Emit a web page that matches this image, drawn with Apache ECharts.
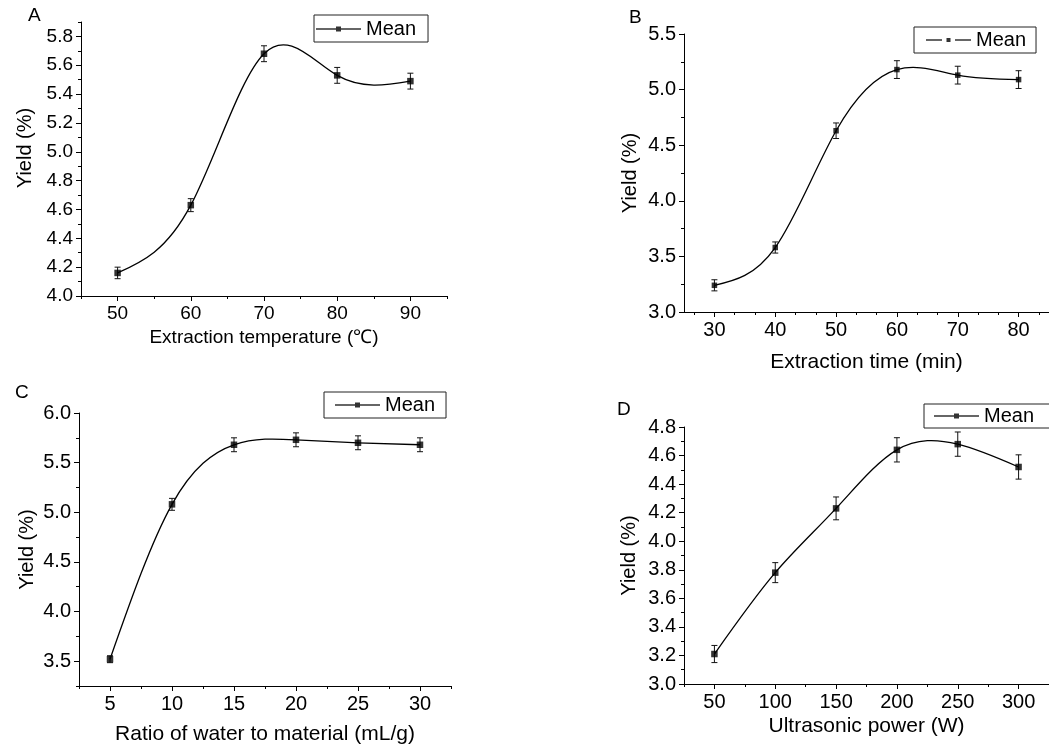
<!DOCTYPE html>
<html>
<head>
<meta charset="utf-8">
<script src="https://cdn.jsdelivr.net/npm/echarts@6/dist/echarts.min.js"></script>
<style>
html, body { margin: 0; padding: 0; background: #fff; }
#main { width: 1049px; height: 747px; }
</style>
</head>
<body>
<div id="main"></div>
<script>
// A - extraction temperature
var tempX = [50, 60, 70, 80, 90];
var tempMean = [4.16, 4.63, 5.68, 5.53, 5.49];
var tempErr = [0.04, 0.045, 0.055, 0.055, 0.055];
// B - extraction time
var timeX = [30, 40, 50, 60, 70, 80];
var timeMean = [3.24, 3.58, 4.63, 5.18, 5.13, 5.09];
var timeErr = [0.05, 0.05, 0.07, 0.08, 0.08, 0.08];
// C - ratio of water to material
var ratioX = [5, 10, 15, 20, 25, 30];
var ratioMean = [3.52, 5.08, 5.68, 5.73, 5.70, 5.68];
var ratioErr = [0.035, 0.06, 0.07, 0.07, 0.07, 0.07];
// D - ultrasonic power
var powerX = [50, 100, 150, 200, 250, 300];
var powerMean = [3.21, 3.78, 4.23, 4.64, 4.68, 4.52];
var powerErr = [0.06, 0.07, 0.08, 0.085, 0.085, 0.085];

// tick labels
var tempTicks = [50, 60, 70, 80, 90];
var tempYTicks = [4.0, 4.2, 4.4, 4.6, 4.8, 5.0, 5.2, 5.4, 5.6, 5.8];
var timeTicks = [30, 40, 50, 60, 70, 80];
var timeYTicks = [3.0, 3.5, 4.0, 4.5, 5.0, 5.5];
var ratioTicks = [5, 10, 15, 20, 25, 30];
var ratioYTicks = [3.5, 4.0, 4.5, 5.0, 5.5, 6.0];
var powerTicks = [50, 100, 150, 200, 250, 300];
var powerYTicks = [3.0, 3.2, 3.4, 3.6, 3.8, 4.0, 4.2, 4.4, 4.6, 4.8];

var FONT = "'Liberation Sans', Arial, sans-serif";

function steps(a, b, s) {
    var out = [];
    for (var v = a; v <= b + 1e-6; v += s) out.push(+v.toFixed(4));
    return out;
}

// natural cubic spline through the points, returned as bezier segments (data space)
function splineSegs(xs, ys) {
    var n = xs.length, h = [], i;
    for (i = 0; i < n - 1; i++) h.push(xs[i + 1] - xs[i]);
    var a = [], b = [], c = [], d = [];
    for (i = 1; i < n - 1; i++) {
        a.push(h[i - 1]);
        b.push(2 * (h[i - 1] + h[i]));
        c.push(h[i]);
        d.push(6 * ((ys[i + 1] - ys[i]) / h[i] - (ys[i] - ys[i - 1]) / h[i - 1]));
    }
    var m = n - 2;
    for (i = 1; i < m; i++) {
        var w = a[i] / b[i - 1];
        b[i] -= w * c[i - 1];
        d[i] -= w * d[i - 1];
    }
    var M = [];
    for (i = 0; i < n; i++) M.push(0);
    for (i = m - 1; i >= 0; i--) {
        M[i + 1] = (d[i] - (i < m - 1 ? c[i] * M[i + 2] : 0)) / b[i];
    }
    var segs = [];
    for (i = 0; i < n - 1; i++) {
        var hi = h[i], dy = (ys[i + 1] - ys[i]) / hi;
        var s0 = dy - hi * (2 * M[i] + M[i + 1]) / 6;
        var s1 = dy + hi * (M[i] + 2 * M[i + 1]) / 6;
        segs.push([
            [xs[i], ys[i]],
            [xs[i] + hi / 3, ys[i] + s0 * hi / 3],
            [xs[i + 1] - hi / 3, ys[i + 1] - s1 * hi / 3],
            [xs[i + 1], ys[i + 1]]
        ]);
    }
    return segs;
}

var iconSolid = 'path://M0,1.8h20v1.4h-20z M20,0h5v5h-5z M25,1.8h20v1.4h-20z';
var iconDash = 'path://M0,1.3h16v1.4h-16z M20.5,0h4v4h-4z M29,1.3h16v1.4h-16z';

var panels = [
    {
        letter: 'A', lx: 28, ly: 6,
        x: tempX, y: tempMean, err: tempErr,
        grid: {left: 81, top: 22, width: 366, height: 274},
        xr: [45, 95], yr: [4.0, 5.9],
        xMajor: tempTicks, xMinor: steps(45, 95, 10),
        yMajor: tempYTicks, yMinor: steps(4.1, 5.9, 0.2),
        xName: 'Extraction temperature (\u2103)', xGap: 32, yGap: 46, yPad: [0, 0, 0, 22],
        fs: 19, ts: 19,
        sym: 6.5,
        lg: {left: 314, top: 15, pad: [4, 12, 3, 2], icon: iconSolid, h: 5}
    },
    {
        letter: 'B', lx: 629, ly: 8,
        x: timeX, y: timeMean, err: timeErr,
        grid: {left: 684, top: 34, width: 375, height: 278},
        xr: [25, 85], yr: [3.0, 5.5],
        xMajor: timeTicks, xMinor: steps(26.6667, 85, 10).concat(steps(33.3333, 85, 10)),
        yMajor: timeYTicks, yMinor: steps(3.25, 5.25, 0.5),
        xName: 'Extraction time (min)', xGap: 40, yGap: 44, yPad: 0,
        fs: 20, ts: 21,
        sym: 5.5,
        lg: {left: 914, top: 27, pad: [3, 10, 3, 12], icon: iconDash, h: 4}
    },
    {
        letter: 'C', lx: 15, ly: 383,
        x: ratioX, y: ratioMean, err: ratioErr,
        grid: {left: 79, top: 413, width: 372, height: 273},
        xr: [2.5, 32.5], yr: [3.25, 6.0],
        xMajor: ratioTicks, xMinor: steps(2.5, 32.5, 5),
        yMajor: ratioYTicks, yMinor: steps(3.25, 5.75, 0.5),
        xName: 'Ratio of water to material (mL/g)', xGap: 38, yGap: 42, yPad: 0,
        fs: 20, ts: 21,
        sym: 6.5,
        lg: {left: 324, top: 392, pad: [3, 11, 3, 11], icon: iconSolid, h: 5}
    },
    {
        letter: 'D', lx: 617, ly: 400,
        x: powerX, y: powerMean, err: powerErr,
        grid: {left: 684, top: 427, width: 372, height: 257},
        xr: [25, 325], yr: [3.0, 4.8],
        xMajor: powerTicks, xMinor: steps(25, 325, 50),
        yMajor: powerYTicks, yMinor: steps(3.1, 4.7, 0.2),
        xName: 'Ultrasonic power (W)', xGap: 32, yGap: 45, yPad: 0,
        fs: 20, ts: 21,
        sym: 6.5,
        lg: {left: 924, top: 404, pad: [2, 30, 2, 10], icon: iconSolid, h: 5}
    }
];

var lineBlack = {color: '#000', width: 1};

function renderErr(params, api) {
    var x = api.value(0);
    var lo = api.coord([x, api.value(1)]);
    var hi = api.coord([x, api.value(2)]);
    var w = 3;
    var st = {stroke: '#111', lineWidth: 1};
    return {
        type: 'group',
        children: [
            {type: 'line', shape: {x1: lo[0], y1: lo[1], x2: hi[0], y2: hi[1]}, style: st},
            {type: 'line', shape: {x1: lo[0] - w, y1: lo[1], x2: lo[0] + w, y2: lo[1]}, style: st},
            {type: 'line', shape: {x1: hi[0] - w, y1: hi[1], x2: hi[0] + w, y2: hi[1]}, style: st}
        ]
    };
}

function makeSplineRender(segs) {
    return function (params, api) {
        var seg = segs[params.dataIndex];
        if (!seg) return null;
        var q = seg.map(function (pt) { return api.coord(pt); });
        return {
            type: 'bezierCurve',
            shape: {
                x1: q[0][0], y1: q[0][1],
                cpx1: q[1][0], cpy1: q[1][1],
                cpx2: q[2][0], cpy2: q[2][1],
                x2: q[3][0], y2: q[3][1]
            },
            style: {stroke: '#000', lineWidth: 1.3, fill: 'none'}
        };
    };
}

var grids = [], xAxes = [], yAxes = [], series = [], titles = [], legends = [];

panels.forEach(function (p, i) {
    grids.push(p.grid);
    var xFmt = function (v) { return String(v); };
    var yFmt = function (v) { return v.toFixed(1); };
    // main x axis: labels and major ticks
    xAxes.push({
        type: 'value', gridIndex: i, position: 'bottom', min: p.xr[0], max: p.xr[1],
        name: p.xName, nameLocation: 'middle', nameGap: p.xGap,
        nameTextStyle: {color: '#000', fontSize: p.ts, fontFamily: FONT},
        axisLine: {show: true, onZero: false, lineStyle: lineBlack},
        axisTick: {show: true, length: 5, customValues: p.xMajor, lineStyle: lineBlack},
        axisLabel: {customValues: p.xMajor, margin: 8, formatter: xFmt, color: '#000', fontSize: p.fs, fontFamily: FONT},
        splitLine: {show: false}
    });
    // overlay x axis: minor ticks only
    xAxes.push({
        type: 'value', gridIndex: i, position: 'bottom', offset: 0, min: p.xr[0], max: p.xr[1],
        axisLine: {show: false, onZero: false},
        axisTick: {show: true, length: 3, customValues: p.xMinor, lineStyle: lineBlack},
        axisLabel: {show: false},
        splitLine: {show: false}
    });
    yAxes.push({
        type: 'value', gridIndex: i, position: 'left', min: p.yr[0], max: p.yr[1],
        name: 'Yield (%)', nameLocation: 'middle', nameGap: p.yGap,
        nameTextStyle: {color: '#000', fontSize: 20, fontFamily: FONT, padding: p.yPad},
        axisLine: {show: true, onZero: false, lineStyle: lineBlack},
        axisTick: {show: true, length: 5, customValues: p.yMajor, lineStyle: lineBlack},
        axisLabel: {customValues: p.yMajor, margin: 8, formatter: yFmt, color: '#000', fontSize: p.fs, fontFamily: FONT},
        splitLine: {show: false}
    });
    yAxes.push({
        type: 'value', gridIndex: i, position: 'left', offset: 0, min: p.yr[0], max: p.yr[1],
        axisLine: {show: false, onZero: false},
        axisTick: {show: true, length: 3, customValues: p.yMinor, lineStyle: lineBlack},
        axisLabel: {show: false},
        splitLine: {show: false}
    });

    var pts = p.x.map(function (v, k) { return [v, p.y[k]]; });

    // spline connecting the means
    series.push({
        type: 'custom', name: 'spline' + p.letter, coordinateSystem: 'cartesian2d',
        xAxisIndex: 2 * i, yAxisIndex: 2 * i,
        data: pts, encode: {x: 0, y: 1},
        renderItem: makeSplineRender(splineSegs(p.x, p.y)), z: 1, silent: true
    });
    // error bars
    series.push({
        type: 'custom', name: 'err' + p.letter, coordinateSystem: 'cartesian2d',
        xAxisIndex: 2 * i, yAxisIndex: 2 * i,
        data: p.x.map(function (v, k) { return [v, p.y[k] - p.err[k], p.y[k] + p.err[k]]; }),
        encode: {x: 0, y: [1, 2]},
        renderItem: renderErr, z: 2, silent: true
    });
    // mean markers
    series.push({
        type: 'scatter', name: 'Mean', xAxisIndex: 2 * i, yAxisIndex: 2 * i,
        data: pts, symbol: 'rect', symbolSize: p.sym,
        itemStyle: {color: '#000'}, z: 3
    });

    titles.push({
        text: p.letter, left: p.lx, top: p.ly, padding: 0,
        textStyle: {color: '#000', fontSize: 19, fontWeight: 'normal', fontFamily: FONT}
    });
    legends.push({
        left: p.lg.left, top: p.lg.top, padding: p.lg.pad, orient: 'horizontal',
        borderColor: '#222', borderWidth: 1, itemWidth: 45, itemHeight: p.lg.h, itemGap: 0,
        selectedMode: false,
        data: [{name: 'Mean', icon: p.lg.icon}],
        itemStyle: {color: '#000', borderWidth: 0},
        textStyle: {color: '#000', fontSize: 20, fontFamily: FONT}
    });
});

var chart = echarts.init(document.getElementById('main'));
chart.setOption({
    animation: false,
    backgroundColor: '#fff',
    title: titles,
    legend: legends,
    grid: grids,
    xAxis: xAxes,
    yAxis: yAxes,
    series: series
});
</script>
</body>
</html>
